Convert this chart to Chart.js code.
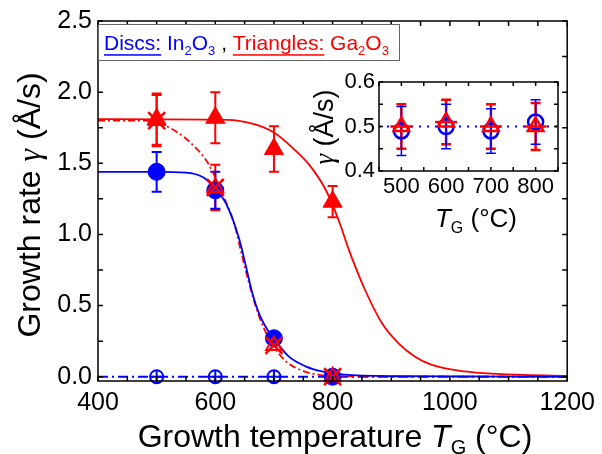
<!DOCTYPE html>
<html>
<head>
<meta charset="utf-8">
<script src="https://cdn.jsdelivr.net/npm/chart.js@4.4.1/dist/chart.umd.min.js"></script>
<style>
    html, body { margin: 0; padding: 0; background: #fff; }
    #wrap { position: relative; width: 602px; height: 454px; }
    #wrap canvas { position: absolute; left: 0; top: 0; }
</style>
</head>
<body>
<div id="wrap">
    <canvas id="mainChart" width="602" height="454"></canvas>
    <canvas id="insetChart" width="602" height="454"></canvas>
</div>
<script>
// Growth temperatures of the measured samples
const temps = [500, 600, 700, 800];

// Main plot: In2O3 discs, Ga2O3 triangles, red crosses, zero-rate crossed circles
const inRate = [1.44, 1.31, 0.27, 0.0];
const inErr = [0.14, 0.13, 0, 0];
const gaRate = [1.81, 1.82, 1.60, 1.23];
const gaErr = [0.18, 0.18, 0.16, 0.11];
const mixRate = [1.80, 1.33, 0.22, 0.0];
const mixErr = [0.18, 0.16, 0, 0];
const zeroRate = [0, 0, 0, 0];

// Fitted curves
const inFitT = [400, 500, 550, 580, 600, 618, 641, 652, 663, 675, 692, 703, 725, 754, 782, 820, 900, 1200];
const inFitV = [1.44, 1.44, 1.435, 1.40, 1.32, 1.22, 0.965, 0.78, 0.59, 0.44, 0.31, 0.25, 0.143, 0.073, 0.037, 0.015, 0.004, 0];
const mixFitT = [400, 480, 508, 536, 564, 587, 601, 621, 632, 645, 660, 675, 690, 700, 720, 750, 780, 820, 1200];
const mixFitV = [1.80, 1.80, 1.775, 1.716, 1.62, 1.505, 1.39, 1.2, 1.08, 0.86, 0.62, 0.42, 0.28, 0.21, 0.11, 0.04, 0.012, 0.004, 0];
const gaFitT = [400, 620, 666, 700, 734, 762, 790, 813, 827, 855, 884, 912, 940, 968, 1025, 1081, 1200];
const gaFitV = [1.81, 1.805, 1.775, 1.716, 1.60, 1.48, 1.30, 1.07, 0.90, 0.613, 0.378, 0.237, 0.143, 0.085, 0.037, 0.02, 0.005];
const zeroLineT = [400, 1200];
const zeroLineV = [0, 0];

// Inset
const insetInRate = [0.49, 0.50, 0.49, 0.51];
const insetInErr = [0.055, 0.05, 0.05, 0.05];
const insetGaRate = [0.50, 0.51, 0.50, 0.50];
const insetGaErr = [0.05, 0.05, 0.05, 0.053];
const insetLineT = [450, 850];
const insetLineV = [0.5, 0.5];

// Tick labels
const xTicks = [400, 600, 800, 1000, 1200];
const yTicks = [0, 0.5, 1.0, 1.5, 2.0, 2.5];
const insetXTicks = [500, 600, 700, 800];
const insetYTicks = [0.4, 0.5, 0.6];

const BLUE = '#0000ff';
const RED = '#ff0000';
const FONT = 'Liberation Sans';

Chart.defaults.font.family = FONT;
Chart.defaults.color = '#000';

const pts = (xs, ys) => xs.map((x, i) => ({ x: x, y: ys[i] }));

// draw a run of text pieces (colour, italic, subscript, underline)
function drawRich(ctx, parts, x, y, size, align) {
    const fontFor = p => (p.i ? 'italic ' : '') + (p.s ? Math.round(size * 0.62) : size) + 'px "' + (p.f || FONT) + '"';
    let total = 0;
    parts.forEach(p => {
        ctx.font = fontFor(p);
        p.w = ctx.measureText(p.t).width;
        total += p.w;
    });
    let cx = align === 'center' ? x - total / 2 : x;
    ctx.textAlign = 'left';
    ctx.textBaseline = 'alphabetic';
    parts.forEach(p => {
        ctx.font = fontFor(p);
        ctx.fillStyle = p.c || '#000';
        ctx.fillText(p.t, cx, p.s ? y + size * 0.22 : y);
        if (p.u) ctx.fillRect(cx, y + size * 0.2, p.w, 1.5);
        cx += p.w;
    });
}

// error bars from dataset.err, drawn with the chart's y scale
const errorBars = {
    id: 'errorBars',
    beforeDatasetsDraw(chart) {
        const ctx = chart.ctx;
        const y = chart.scales.y;
        chart.data.datasets.forEach((ds, i) => {
            if (!ds.err) return;
            const meta = chart.getDatasetMeta(i);
            ctx.save();
            ctx.strokeStyle = ds.borderColor;
            ctx.lineWidth = ds.errWidth || 2;
            meta.data.forEach((pt, j) => {
                const e = ds.err[j];
                if (!e) return;
                const v = ds.data[j].y;
                const top = y.getPixelForValue(v + e);
                const bot = y.getPixelForValue(v - e);
                ctx.beginPath();
                ctx.moveTo(pt.x, top); ctx.lineTo(pt.x, bot);
                ctx.moveTo(pt.x - 5, top); ctx.lineTo(pt.x + 5, top);
                ctx.moveTo(pt.x - 5, bot); ctx.lineTo(pt.x + 5, bot);
                ctx.stroke();
            });
            ctx.restore();
        });
    }
};

// box round the plot with inward ticks on all four sides
const frame = {
    id: 'frame',
    beforeDraw(chart, args, o) {
        if (!o.fill) return;
        const a = chart.chartArea;
        chart.ctx.save();
        chart.ctx.fillStyle = '#fff';
        chart.ctx.fillRect(a.left, a.top, a.right - a.left, a.bottom - a.top);
        chart.ctx.restore();
    },
    afterDraw(chart, args, o) {
        const ctx = chart.ctx;
        const a = chart.chartArea;
        const x = chart.scales.x, y = chart.scales.y;
        ctx.save();
        ctx.strokeStyle = '#000';
        ctx.lineWidth = o.lw;
        ctx.beginPath();
        for (let n = Math.ceil(x.min / o.dx - 1e-9); n <= Math.floor(x.max / o.dx + 1e-9); n++) {
            const px = x.getPixelForValue(n * o.dx);
            ctx.moveTo(px, a.bottom); ctx.lineTo(px, a.bottom - o.len);
            ctx.moveTo(px, a.top); ctx.lineTo(px, a.top + o.len);
        }
        for (let n = Math.ceil(y.min / o.dy - 1e-9); n <= Math.floor(y.max / o.dy + 1e-9); n++) {
            const py = y.getPixelForValue(n * o.dy);
            ctx.moveTo(a.left, py); ctx.lineTo(a.left + o.len, py);
            ctx.moveTo(a.right, py); ctx.lineTo(a.right - o.len, py);
        }
        ctx.stroke();
        ctx.strokeRect(a.left, a.top, a.right - a.left, a.bottom - a.top);
        ctx.restore();
    }
};

const mainText = {
    id: 'mainText',
    afterDraw(chart) {
        const ctx = chart.ctx;
        ctx.save();
        // legend box
        ctx.fillStyle = '#fff';
        ctx.fillRect(99, 24, 301, 36);
        ctx.strokeStyle = '#666';
        ctx.lineWidth = 1;
        ctx.strokeRect(98.5, 24.5, 301, 36);
        drawRich(ctx, [
            { t: 'Discs:', c: BLUE, u: true }, { t: ' In', c: BLUE }, { t: '2', c: BLUE, s: true },
            { t: 'O', c: BLUE }, { t: '3', c: BLUE, s: true }, { t: ' , ' },
            { t: 'Triangles:', c: RED, u: true }, { t: ' Ga', c: RED }, { t: '2', c: RED, s: true },
            { t: 'O', c: RED }, { t: '3', c: RED, s: true }
        ], 104, 50, 21, 'left');
        // axis titles
        drawRich(ctx, [{ t: 'Growth temperature ' }, { t: 'T', i: true }, { t: 'G', s: true }, { t: ' (°C)' }], 335, 447, 32, 'center');
        ctx.translate(40, 205);
        ctx.rotate(-Math.PI / 2);
        drawRich(ctx, [{ t: 'Growth rate ' }, { t: 'γ', i: true, f: 'Liberation Serif' }, { t: ' (Å/s)' }], 0, 0, 32, 'center');
        ctx.restore();
    }
};

const insetText = {
    id: 'insetText',
    afterDraw(chart) {
        const ctx = chart.ctx;
        ctx.save();
        drawRich(ctx, [{ t: 'T', i: true }, { t: 'G', s: true }, { t: ' (°C)' }], 476, 227, 26, 'center');
        ctx.translate(333, 127);
        ctx.rotate(-Math.PI / 2);
        drawRich(ctx, [{ t: 'γ', i: true, f: 'Liberation Serif' }, { t: ' (Å/s)' }], 0, 0, 27, 'center');
        ctx.restore();
    }
};

const curve = (label, xs, ys, color, dash) => ({
    label: label,
    data: pts(xs, ys),
    showLine: true,
    borderColor: color,
    borderWidth: 1.8,
    borderDash: dash || [],
    pointRadius: 0,
    cubicInterpolationMode: 'monotone',
    order: 10
});

// Main chart
const mainCtx = document.getElementById('mainChart').getContext('2d');
const mainChart = new Chart(mainCtx, {
    type: 'scatter',
    data: {
        datasets: [
            { label: 'cross marks', data: pts(temps, mixRate), err: mixErr, pointStyle: 'crossRot', pointRadius: 12, borderWidth: 2.5, borderColor: RED, backgroundColor: RED, clip: false, order: 1 },
            { label: 'cross marks tri', data: pts(temps, mixRate), pointStyle: 'triangle', pointRadius: 9, borderWidth: 2, borderColor: RED, backgroundColor: 'rgba(0,0,0,0)', clip: false, order: 1 },
            { label: 'Ga2O3', data: pts(temps, gaRate), err: gaErr, pointStyle: 'triangle', pointRadius: 11, borderWidth: 1, borderColor: RED, backgroundColor: RED, clip: false, order: 2 },
            { label: 'In2O3', data: pts(temps, inRate), err: inErr, pointStyle: 'circle', pointRadius: 8.5, borderWidth: 1, borderColor: BLUE, backgroundColor: BLUE, clip: false, order: 3 },
            { label: 'zero circles', data: pts(temps, zeroRate), pointStyle: 'circle', pointRadius: 6.5, borderWidth: 2, borderColor: BLUE, backgroundColor: 'rgba(0,0,0,0)', clip: false, order: 5 },
            { label: 'zero plus', data: pts(temps, zeroRate), pointStyle: 'cross', pointRadius: 6.5, borderWidth: 2, borderColor: BLUE, clip: false, order: 5 },
            curve('In2O3 fit', inFitT, inFitV, BLUE),
            curve('Ga2O3 fit', gaFitT, gaFitV, RED),
            curve('cross fit', mixFitT, mixFitV, RED, [7, 3, 2, 3]),
            curve('zero line', zeroLineT, zeroLineV, BLUE, [10, 4, 2, 4])
        ]
    },
    options: {
        responsive: false,
        animation: false,
        devicePixelRatio: 1,
        layout: { padding: { top: 20, right: 31.5, left: 0, bottom: 0 } },
        plugins: {
            legend: { display: false },
            tooltip: { enabled: false },
            frame: { dx: 50, dy: 0.25, len: 5, lw: 1.5 }
        },
        scales: {
            x: {
                type: 'linear',
                min: 400,
                max: 1200,
                afterFit: s => { s.height = 73; },
                afterBuildTicks: s => { s.ticks = xTicks.map(v => ({ value: v })); },
                ticks: { font: { size: 25 }, padding: 7, maxRotation: 0, autoSkip: false, callback: v => String(v) },
                grid: { display: false, drawTicks: false },
                border: { display: false }
            },
            y: {
                min: -0.03,
                max: 2.5,
                afterFit: s => { s.width = 98; },
                afterBuildTicks: s => { s.ticks = yTicks.map(v => ({ value: v })); },
                ticks: { font: { size: 25 }, padding: 6, callback: v => v.toFixed(1) },
                grid: { display: false, drawTicks: false },
                border: { display: false }
            }
        }
    },
    plugins: [errorBars, frame, mainText]
});

// Inset chart, laid over the main one
const insetCtx = document.getElementById('insetChart').getContext('2d');
const insetChart = new Chart(insetCtx, {
    type: 'scatter',
    data: {
        datasets: [
            { label: 'Ga2O3 bar', data: pts(temps, insetGaRate), pointStyle: 'line', pointRadius: 11, borderWidth: 2.5, borderColor: RED, clip: false, order: 1 },
            { label: 'Ga2O3', data: pts(temps, insetGaRate), err: insetGaErr, errWidth: 2.5, pointStyle: 'triangle', pointRadius: 9, borderWidth: 2.5, borderColor: RED, backgroundColor: 'rgba(0,0,0,0)', clip: false, order: 1 },
            { label: 'In2O3', data: pts(temps, insetInRate), err: insetInErr, errWidth: 1.5, pointStyle: 'circle', pointRadius: 7.5, borderWidth: 2.5, borderColor: BLUE, backgroundColor: 'rgba(0,0,0,0)', clip: false, order: 2 },
            { label: 'mean', data: pts(insetLineT, insetLineV), showLine: true, borderColor: BLUE, borderWidth: 2.2, borderDash: [2, 6], pointRadius: 0, order: 10 }
        ]
    },
    options: {
        responsive: false,
        animation: false,
        devicePixelRatio: 1,
        layout: { padding: { top: 82, right: 44, left: 0, bottom: 0 } },
        plugins: {
            legend: { display: false },
            tooltip: { enabled: false },
            frame: { dx: 50, dy: 0.05, len: 4, lw: 1.5, fill: true }
        },
        scales: {
            x: {
                type: 'linear',
                min: 450,
                max: 850,
                afterFit: s => { s.height = 283; },
                afterBuildTicks: s => { s.ticks = insetXTicks.map(v => ({ value: v })); },
                ticks: { font: { size: 22 }, padding: 3, maxRotation: 0, autoSkip: false, callback: v => String(v) },
                grid: { display: false, drawTicks: false },
                border: { display: false }
            },
            y: {
                min: 0.4,
                max: 0.6,
                afterFit: s => { s.width = 379; },
                afterBuildTicks: s => { s.ticks = insetYTicks.map(v => ({ value: v })); },
                ticks: { font: { size: 22 }, padding: 4, callback: v => v.toFixed(1) },
                grid: { display: false, drawTicks: false },
                border: { display: false }
            }
        }
    },
    plugins: [errorBars, frame, insetText]
});
</script>
</body>
</html>
